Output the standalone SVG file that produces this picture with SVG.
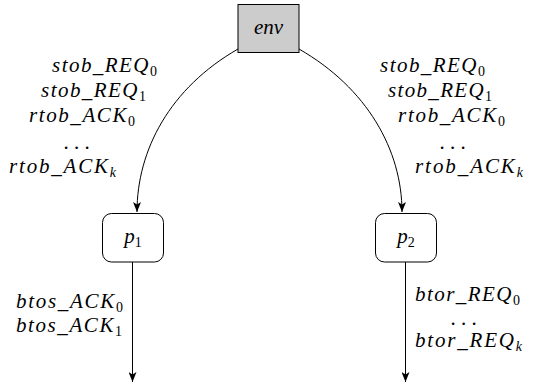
<svg xmlns="http://www.w3.org/2000/svg" width="533" height="384" viewBox="0 0 533 384">
<style>
  text { font-family: "Liberation Serif", "Times New Roman", serif; font-style: italic; font-size: 21px; fill: #000; }
  .sub { font-size: 14px; font-style: normal; }
  .subi { font-size: 14px; font-style: italic; }
  .node { stroke: #000; stroke-width: 1; }
  .conn { fill: none; stroke: #000; stroke-width: 1; marker-end: url(#arr); }
  .c { text-anchor: middle; }
</style>
<defs>
  <marker id="arr" viewBox="0 0 10 8" refX="10" refY="4" markerWidth="10" markerHeight="8" markerUnits="userSpaceOnUse" orient="auto">
    <path d="M0,0 L10,4 L0,8 L2.5,4 z" fill="#000"/>
  </marker>
</defs>

<g id="connectors">
  <path class="conn" d="M238,49 C170,88 137,150 137,212"/>
  <path class="conn" d="M299,49 C367,88 402,150 402,212"/>
  <path class="conn" d="M132.5,262 L132.5,382"/>
  <path class="conn" d="M405.5,262 L405.5,382"/>
</g>

<g id="env">
  <rect class="node" x="238" y="4.5" width="61" height="48" fill="#cccccc"/>
  <text class="c" x="268.5" y="34">env</text>
</g>
<g id="p1">
  <rect class="node" x="102.5" y="213.5" width="61" height="48.5" rx="9" fill="#fff"/>
  <text class="c" x="133" y="243">p<tspan class="sub" dy="4">1</tspan></text>
</g>
<g id="p2">
  <rect class="node" x="375.5" y="213.5" width="61" height="48.5" rx="9" fill="#fff"/>
  <text class="c" x="406" y="243">p<tspan class="sub" dy="4">2</tspan></text>
</g>

<g id="labels-env-p1">
  <text x="52" y="72" textLength="105" lengthAdjust="spacing">stob_REQ<tspan class="sub" dy="4">0</tspan></text>
  <text x="41" y="97" textLength="105" lengthAdjust="spacing">stob_REQ<tspan class="sub" dy="4">1</tspan></text>
  <text x="29" y="122" textLength="106" lengthAdjust="spacing">rtob_ACK<tspan class="sub" dy="4">0</tspan></text>
  <text class="c" x="77" y="149">. . .</text>
  <text x="9" y="173" textLength="107" lengthAdjust="spacing">rtob_ACK<tspan class="subi" dy="4">k</tspan></text>
</g>
<g id="labels-env-p2">
  <text x="380" y="72" textLength="105" lengthAdjust="spacing">stob_REQ<tspan class="sub" dy="4">0</tspan></text>
  <text x="388" y="97" textLength="104" lengthAdjust="spacing">stob_REQ<tspan class="sub" dy="4">1</tspan></text>
  <text x="398" y="122" textLength="107" lengthAdjust="spacing">rtob_ACK<tspan class="sub" dy="4">0</tspan></text>
  <text class="c" x="453" y="149">. . .</text>
  <text x="415" y="173" textLength="108" lengthAdjust="spacing">rtob_ACK<tspan class="subi" dy="4">k</tspan></text>
</g>
<g id="labels-p1-out">
  <text x="16" y="308" textLength="107" lengthAdjust="spacing">btos_ACK<tspan class="sub" dy="4">0</tspan></text>
  <text x="16" y="332" textLength="106" lengthAdjust="spacing">btos_ACK<tspan class="sub" dy="4">1</tspan></text>
</g>
<g id="labels-p2-out">
  <text x="415" y="301" textLength="105" lengthAdjust="spacing">btor_REQ<tspan class="sub" dy="4">0</tspan></text>
  <text class="c" x="464" y="325">. . .</text>
  <text x="415" y="347" textLength="107" lengthAdjust="spacing">btor_REQ<tspan class="subi" dy="4">k</tspan></text>
</g>
</svg>
